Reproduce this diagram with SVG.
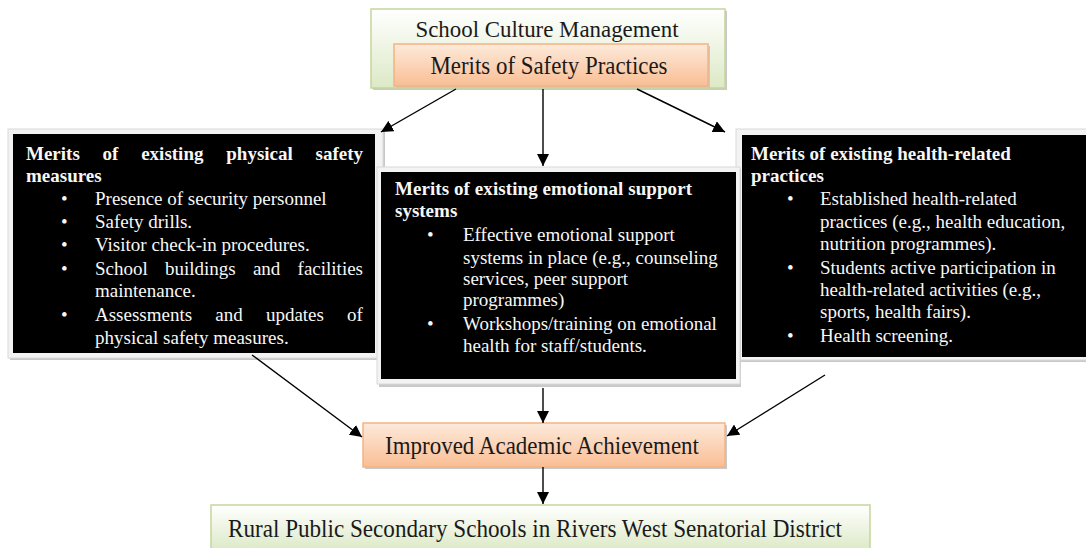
<svg xmlns="http://www.w3.org/2000/svg" width="1086" height="548" viewBox="0 0 1086 548">
<defs>
<linearGradient id="gGreen" x1="0" y1="0" x2="0" y2="1"><stop offset="0" stop-color="#ffffff"/><stop offset="1" stop-color="#dce9c6"/></linearGradient>
<linearGradient id="gOrange" x1="0" y1="0" x2="0" y2="1"><stop offset="0" stop-color="#fdeadb"/><stop offset="1" stop-color="#f9be94"/></linearGradient>
<marker id="ah" viewBox="0 0 10 10" refX="10" refY="5" markerWidth="12" markerHeight="12" markerUnits="userSpaceOnUse" orient="auto"><path d="M0,0 L10,5 L0,10 z" fill="#000"/></marker>
<style>
.t{font-family:"Liberation Serif","Times New Roman",serif;fill:#1a1a1a}
.w{font-family:"Liberation Serif","Times New Roman",serif;fill:#f7f7f7;font-size:19px}
.b{font-weight:bold}
.green{fill:url(#gGreen);stroke:#c3d69b;stroke-width:1.5}
.orange{fill:url(#gOrange);stroke:#f3b384;stroke-width:1.5}
.shadow{fill:#c9c9c9}
.frame{fill:#f3f3f3;stroke:#dadada;stroke-width:1}
.blk{fill:#000}
.conn line{stroke:#000;stroke-width:1.4;marker-end:url(#ah)}
</style>
</defs>

<g id="top">
<rect class="shadow" x="373" y="11" width="354" height="79"/>
<rect class="green" x="371" y="9" width="354" height="79"/>
<text class="t" x="547" y="37" font-size="24" text-anchor="middle" textLength="263" lengthAdjust="spacingAndGlyphs">School Culture Management</text>
<rect class="shadow" x="396" y="46" width="314" height="42"/>
<rect class="orange" x="394" y="44" width="314" height="42"/>
<text class="t" x="549" y="74" font-size="26" text-anchor="middle" textLength="237" lengthAdjust="spacingAndGlyphs">Merits of Safety Practices</text>
</g>

<g id="physical">
<rect class="shadow" x="10" y="131" width="375" height="229"/>
<rect class="frame" x="8" y="129" width="375" height="229"/>
<rect class="blk" x="13" y="134" width="362" height="219"/>
<text class="w b" y="160"><tspan x="26">Merits</tspan><tspan x="102.6">of</tspan><tspan x="141.2">existing</tspan><tspan x="226.3">physical</tspan><tspan x="315.6">safety</tspan></text>
<text class="w b" x="26" y="182">measures</text>
<text class="w" x="61" y="205">•</text>
<text class="w" x="95" y="205">Presence of security personnel</text>
<text class="w" x="61" y="228">•</text>
<text class="w" x="95" y="228">Safety drills.</text>
<text class="w" x="61" y="251">•</text>
<text class="w" x="95" y="251">Visitor check-in procedures.</text>
<text class="w" x="61" y="275">•</text>
<text class="w" y="275"><tspan x="95">School</tspan><tspan x="165">buildings</tspan><tspan x="252.9">and</tspan><tspan x="297.6">facilities</tspan></text>
<text class="w" x="95" y="297">maintenance.</text>
<text class="w" x="61" y="321">•</text>
<text class="w" y="321"><tspan x="95">Assessments</tspan><tspan x="215.3">and</tspan><tspan x="265.9">updates</tspan><tspan x="347.1">of</tspan></text>
<text class="w" x="95" y="344">physical safety measures.</text>
</g>

<g id="health">
<rect class="shadow" x="738" y="131" width="348" height="231"/>
<rect class="frame" x="736" y="129" width="352" height="231"/>
<rect class="blk" x="742" y="135" width="344" height="222"/>
<text class="w b" x="751" y="160">Merits of existing health-related</text>
<text class="w b" x="751" y="182">practices</text>
<text class="w" x="787" y="205">•</text>
<text class="w" x="820" y="205">Established health-related</text>
<text class="w" x="820" y="228">practices (e.g., health education,</text>
<text class="w" x="820" y="250">nutrition programmes).</text>
<text class="w" x="787" y="274">•</text>
<text class="w" x="820" y="274">Students active participation in</text>
<text class="w" x="820" y="296">health-related activities (e.g.,</text>
<text class="w" x="820" y="318">sports, health fairs).</text>
<text class="w" x="787" y="342">•</text>
<text class="w" x="820" y="342">Health screening.</text>
</g>

<g id="emotional">
<rect class="shadow" x="379" y="169" width="362" height="218"/>
<rect class="frame" x="377" y="167" width="363" height="217"/>
<rect class="blk" x="381" y="172" width="355" height="207"/>
<text class="w b" x="395" y="195" textLength="297" lengthAdjust="spacing">Merits of existing emotional support</text>
<text class="w b" x="395" y="217">systems</text>
<text class="w" x="427" y="241">•</text>
<text class="w" x="463" y="241">Effective emotional support</text>
<text class="w" x="463" y="264">systems in place (e.g., counseling</text>
<text class="w" x="463" y="285">services, peer support</text>
<text class="w" x="463" y="306">programmes)</text>
<text class="w" x="427" y="330">•</text>
<text class="w" x="463" y="330">Workshops/training on emotional</text>
<text class="w" x="463" y="352">health for staff/students.</text>
</g>

<g id="achievement">
<rect class="shadow" x="365" y="425" width="362" height="44"/>
<rect class="orange" x="363" y="423" width="362" height="44"/>
<text class="t" x="542" y="454" font-size="25" text-anchor="middle" textLength="314" lengthAdjust="spacingAndGlyphs">Improved Academic Achievement</text>
</g>

<g id="schools">
<rect class="green" x="211" y="505" width="659" height="46"/>
<text class="t" x="535" y="537" font-size="25" text-anchor="middle" textLength="614" lengthAdjust="spacingAndGlyphs">Rural Public Secondary Schools in Rivers West Senatorial District</text>
</g>

<g id="connectors" class="conn">
<line x1="456" y1="89" x2="381" y2="132"/>
<line x1="543" y1="89" x2="543" y2="166"/>
<line x1="637" y1="89" x2="725" y2="132"/>
<line x1="252" y1="355" x2="362" y2="437"/>
<line x1="543" y1="388" x2="543" y2="423"/>
<line x1="825" y1="375" x2="727" y2="436"/>
<line x1="543" y1="467" x2="543" y2="504"/>
</g>
</svg>
